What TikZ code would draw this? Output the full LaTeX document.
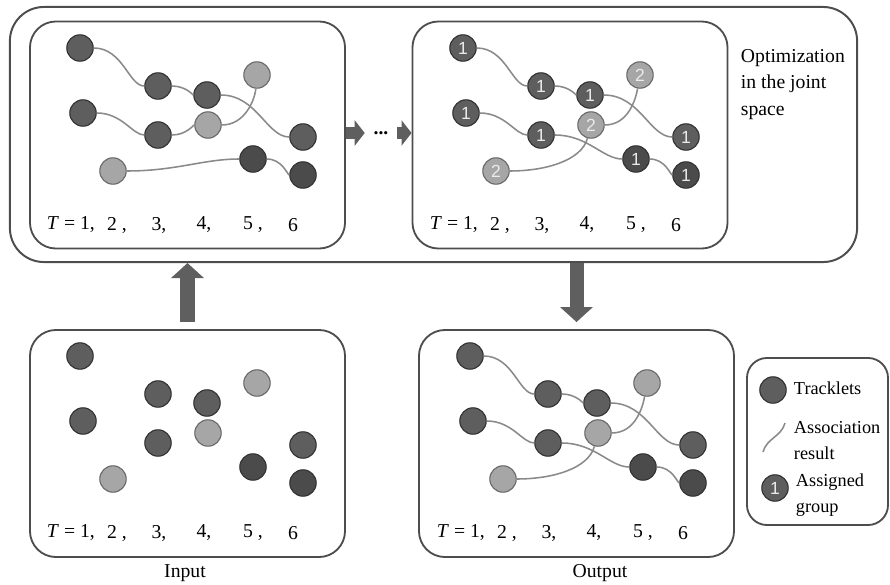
\documentclass[tikz,border=0pt]{standalone}
\usepackage{fontspec}
\setmainfont{Liberation Serif}
\setsansfont{Liberation Sans}
\usetikzlibrary{arrows.meta,positioning,calc}

\definecolor{framegray}{HTML}{4D4D4D}
\definecolor{trackdark}{HTML}{5E5E5E}
\definecolor{trackdarker}{HTML}{4B4B4B}
\definecolor{tracklight}{HTML}{A6A6A6}
\definecolor{linkgray}{HTML}{8A8A8A}
\definecolor{arrowgray}{HTML}{5F5F5F}

\newcommand{\trackletnodes}[1]{%
  \foreach \n/\x/\y/\kind/\grp in {p1a/50/26/dark/1, p1b/53/91/dark/1, p2/83/149/light/2,
      p3a/128/64/dark/1, p3b/128/113/dark/1, p4a/177/73/dark/1, p4b/178/103/light/2,
      p5a/227/53/light/2, p5b/223/137/darker/1, p6a/273/115/dark/1, p6b/273/153/darker/1}
    {\node[\kind] (\n) at (\x,\y) {\ifnum#1=1 \grp\fi};}
  \node[anchor=west] (tlabel) at (12,203) {\textit{T} = 1,};
  \foreach \x/\lbl [count=\i] in {87/{2 ,},129/{3,},174/{4,},223/{5 ,},263/6}
    \node (t\i) at (\x,203) {\lbl};
}
\newcommand{\linksfirst}{%
  \draw[assoc] (p1a) to[out=0,in=180] (p3a);
  \draw[assoc] (p3a) to[out=0,in=180] (p4a);
  \draw[assoc] (p4a) to[out=0,in=180] (p6a);
  \draw[assoc] (p1b) to[out=0,in=180] (p3b);
  \draw[assoc] (p3b) to[out=0,in=180] (p4b);
  \draw[assoc] (p4b) to[out=0,in=-95] (p5a);
  \draw[assoc] (p2) to[out=0,in=180] (p5b);
  \draw[assoc] (p5b) to[out=0,in=180] (p6b);
}
\newcommand{\linksfinal}{%
  \draw[assoc] (p1a) to[out=0,in=180] (p3a);
  \draw[assoc] (p3a) to[out=0,in=180] (p4a);
  \draw[assoc] (p4a) to[out=0,in=180] (p6a);
  \draw[assoc] (p1b) to[out=0,in=180] (p3b);
  \draw[assoc] (p3b) to[out=0,in=180] (p5b);
  \draw[assoc] (p5b) to[out=0,in=180] (p6b);
  \draw[assoc] (p2) to[out=0,in=-105] (p4b);
  \draw[assoc] (p4b) to[out=0,in=-100] (p5a);
}

\begin{document}
\begin{tikzpicture}[%
    x=0.025cm, y=-0.025cm,
    font=\fontsize{14}{19}\selectfont,
    frame/.style={
      rectangle,
      draw=framegray,
      line width=1.4pt,
      rounded corners=0.85cm,
      minimum width=21.175cm,
      minimum height=6.375cm
    },
    panel/.style={
      rectangle,
      draw=framegray,
      line width=1.3pt,
      fill=white,
      rounded corners=0.65cm,
      minimum width=7.875cm,
      minimum height=5.675cm
    },
    legendbox/.style={
      rectangle,
      draw=framegray,
      line width=1.3pt,
      rounded corners=0.5cm,
      minimum width=3.525cm,
      minimum height=4.175cm
    },
    dark/.style={
      circle,
      draw=black!80,
      fill=trackdark,
      line width=0.8pt,
      minimum size=0.66cm,
      inner sep=0pt,
      text=black!8,
      font=\sffamily\fontsize{12.5}{12.5}\selectfont
    },
    darker/.style={dark, fill=trackdarker},
    light/.style={dark, draw=black!58, fill=tracklight},
    assoc/.style={draw=linkgray, line width=1.1pt},
    bigarrow/.style={
      draw=arrowgray,
      line width=0.35cm,
      -{Triangle[width=0.8cm,length=0.375cm]}
    },
    smallarrow/.style={
      draw=arrowgray,
      line width=0.3cm,
      -{Triangle[width=0.625cm,length=0.25cm]}
    },
    legendtext/.style={
      anchor=west,
      align=left,
      font=\fontsize{13}{18.5}\selectfont
    }
  ]
  \useasboundingbox (0,0) rectangle (890,585);

  \node[frame] (joint) at (433.5,134.5) {};
  \node[panel] (stepA) at (187.5,135) {};
  \node[panel] (stepB) at (570,135) {};
  \node[panel] (input) at (187.5,443.5) {};
  \node[panel] (output) at (576.5,443.5) {};
  \node[legendbox] (legend) at (817.5,441.5) {};

  \begin{scope}[shift={(30,22)}, name prefix=A-]
    \trackletnodes{0}\linksfirst
  \end{scope}
  \begin{scope}[shift={(413,22)}, name prefix=B-]
    \trackletnodes{1}\linksfinal
  \end{scope}
  \begin{scope}[shift={(30,330)}, name prefix=I-]
    \trackletnodes{0}
  \end{scope}
  \begin{scope}[shift={(420,330)}, name prefix=O-]
    \trackletnodes{0}\linksfinal
  \end{scope}

  \node[minimum width=0.8cm, inner sep=0pt] (dots) at (381,133) {\textbf{...}};
  \draw[smallarrow] (stepA.east |- dots) -- (dots.west);
  \draw[smallarrow] (dots.east) -- (stepB.west |- dots);

  \draw[bigarrow] ([yshift=0.175cm]input.north) -- (input.north |- joint.south);
  \draw[bigarrow] (output.north |- joint.south) -- ([yshift=0.175cm]output.north);

  \node[anchor=north west, align=left] (jointlbl) at (736,44) {Optimization\\in the joint\\space};
  \node (inlbl) at (185,573) {Input};
  \node (outlbl) at (600,573) {Output};

  \node[dark] (lg-track) at (773,390) {};
  \node[legendtext] (lg-tracktxt) at (789,388) {Tracklets};
  \coordinate (lg-a) at (763,452);
  \coordinate (lg-b) at (785,423);
  \draw[assoc] (lg-a) to[out=75,in=-105] (lg-b);
  \node[legendtext] (lg-assoctxt) at (789,441) {Association\\result};
  \node[dark] (lg-group) at (775,488) {1};
  \node[legendtext] (lg-grouptxt) at (791,495) {Assigned\\group};
\end{tikzpicture}
\end{document}
